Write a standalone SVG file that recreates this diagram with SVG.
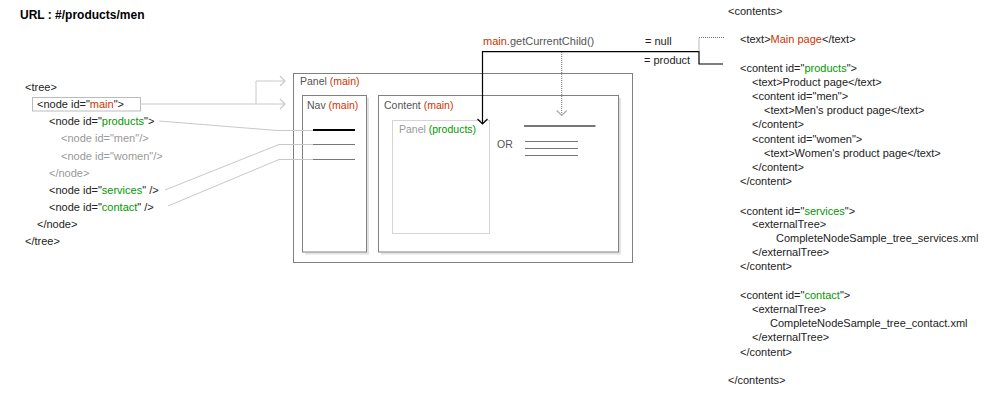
<svg xmlns="http://www.w3.org/2000/svg" width="1000" height="400" viewBox="0 0 1000 400">
  <style>
    text { font-family: "Liberation Sans", Arial, sans-serif; font-size: 11px; fill: #222; }
    .title { font-size: 12px; font-weight: bold; fill: #000; }
    .red { fill: #cc3300; }
    .green { fill: #009900; }
    .dim { fill: #999; }
    .lbl { fill: #555; font-size: 10.5px; }
    .box { fill: #fff; stroke: #808080; stroke-width: 1; }
    .shadow { fill: none; stroke: #e2e2e2; stroke-width: 2; }
    .link { fill: none; stroke: #c8c8c8; stroke-width: 1; }
    .call { fill: none; stroke: #000; stroke-width: 1.2; }
    .dots { fill: none; stroke: #777; stroke-width: 1; stroke-dasharray: 1 1; }
  </style>
  <defs>
    <marker id="chevGray" markerWidth="12" markerHeight="12" refX="6" refY="6" orient="auto" markerUnits="userSpaceOnUse">
      <path d="M1,1 L6,6 L1,11" fill="none" stroke="#c8c8c8" stroke-width="1.2"/>
    </marker>
    <marker id="chevBlack" markerWidth="12" markerHeight="12" refX="6" refY="6" orient="auto" markerUnits="userSpaceOnUse">
      <path d="M1,1 L6,6 L1,11" fill="none" stroke="#000" stroke-width="1.2"/>
    </marker>
    <marker id="chevLight" markerWidth="12" markerHeight="12" refX="6" refY="6" orient="auto" markerUnits="userSpaceOnUse">
      <path d="M1,1 L6,6 L1,11" fill="none" stroke="#aaa" stroke-width="1.2"/>
    </marker>
  </defs>

  <text class="title" x="20" y="19">URL : #/products/men</text>

  <!-- tree definition -->
  <g id="tree">
    <text x="25" y="91">&lt;tree&gt;</text>
    <g id="tree-main">
      <rect x="32.5" y="97.5" width="108" height="13.5" fill="none" stroke="#bbb"/>
      <text x="37" y="108">&lt;node id="<tspan class="red">main</tspan>"&gt;</text>
    </g>
    <g id="tree-products"><text x="49" y="125">&lt;node id="<tspan class="green">products</tspan>"&gt;</text></g>
    <g id="tree-men"><text class="dim" x="61" y="142">&lt;node id="men"/&gt;</text></g>
    <g id="tree-women"><text class="dim" x="61" y="160">&lt;node id="women"/&gt;</text></g>
    <text class="dim" x="49" y="177">&lt;/node&gt;</text>
    <g id="tree-services"><text x="49" y="194">&lt;node id="<tspan class="green">services</tspan>" /&gt;</text></g>
    <g id="tree-contact"><text x="49" y="211">&lt;node id="<tspan class="green">contact</tspan>" /&gt;</text></g>
    <text x="37" y="228">&lt;/node&gt;</text>
    <text x="25" y="245">&lt;/tree&gt;</text>
  </g>

  <!-- panels -->
  <g id="panel-main">
    <rect class="box" x="293.5" y="73.5" width="339" height="189"/>
    <text class="lbl" x="300" y="85">Panel <tspan class="red">(main)</tspan></text>
  </g>
  <g id="nav-main">
    <path class="shadow" d="M368,98 V253.5 H305"/>
    <rect class="box" x="302.5" y="95.5" width="64" height="156.5"/>
    <text class="lbl" x="307" y="109">Nav <tspan class="red">(main)</tspan></text>
    <line x1="313" y1="130" x2="355" y2="130" stroke="#000" stroke-width="2"/>
    <line x1="313" y1="144.5" x2="355" y2="144.5" stroke="#777"/>
    <line x1="313" y1="159.5" x2="355" y2="159.5" stroke="#777"/>
  </g>
  <g id="content-main">
    <path class="shadow" d="M620,98 V253.5 H381"/>
    <rect class="box" x="378.5" y="95.5" width="240" height="156.5"/>
    <text class="lbl" x="384" y="109">Content <tspan class="red">(main)</tspan></text>
    <text class="lbl" x="497" y="147.5">OR</text>
    <line x1="524" y1="126" x2="595.5" y2="126" stroke="#777" stroke-width="2"/>
    <line x1="525" y1="141.5" x2="578" y2="141.5" stroke="#777"/>
    <line x1="525" y1="148.5" x2="578" y2="148.5" stroke="#777"/>
    <line x1="525" y1="155.5" x2="578" y2="155.5" stroke="#777"/>
  </g>
  <g id="panel-products">
    <rect x="392.5" y="120.5" width="97" height="113" fill="none" stroke="#aaa" stroke-dasharray="1 1"/>
    <text class="lbl" x="399" y="133"><tspan fill="#999">Panel </tspan><tspan class="green">(products)</tspan></text>
  </g>

  <!-- getCurrentChild call -->
  <g id="call-label">
    <text x="483" y="44.7" fill="#555"><tspan class="red">main</tspan><tspan fill="#555">.getCurrentChild()</tspan></text>
    <text x="645" y="45.3" fill="#555">= null</text>
    <text x="644" y="64" fill="#555">= product</text>
  </g>

  <!-- connectors -->
  <g id="connectors">
    <polyline class="link" points="140.5,104 285,104" marker-end="url(#chevGray)"/>
    <polyline class="link" points="256,104 256,81 285,81" marker-end="url(#chevGray)"/>
    <polyline class="link" points="159,121 277,130.5 313,130.5"/>
    <polyline class="link" points="165,190 279,144.5 313,144.5"/>
    <polyline class="link" points="168,206 279,159.5 313,159.5"/>
    <polyline class="call" points="723,64 699,64 699,51.7 482.5,51.7 482.5,124" marker-end="url(#chevBlack)"/>
    <polyline class="dots" points="724,37.5 699,37.5 699,51.7"/>
    <polyline class="dots" points="561.7,52 561.7,115.5" marker-end="url(#chevLight)"/>
  </g>

  <!-- contents definition -->
  <g id="contents">
    <text x="728" y="15.3">&lt;contents&gt;</text>
    <g id="content-text"><text x="740" y="43.3">&lt;text&gt;<tspan class="red">Main page</tspan>&lt;/text&gt;</text></g>
    <g id="content-products">
      <text x="740" y="72.3">&lt;content id="<tspan class="green">products</tspan>"&gt;</text>
      <text x="752" y="86">&lt;text&gt;Product page&lt;/text&gt;</text>
      <text x="752" y="100.3">&lt;content id="men"&gt;</text>
      <text x="764" y="114.3">&lt;text&gt;Men's product page&lt;/text&gt;</text>
      <text x="752" y="128.3">&lt;/content&gt;</text>
      <text x="752" y="143">&lt;content id="women"&gt;</text>
      <text x="764" y="157.3">&lt;text&gt;Women's product page&lt;/text&gt;</text>
      <text x="752" y="170.7">&lt;/content&gt;</text>
      <text x="740" y="185.3">&lt;/content&gt;</text>
    </g>
    <g id="content-services">
      <text x="740" y="214.7">&lt;content id="<tspan class="green">services</tspan>"&gt;</text>
      <text x="752" y="228">&lt;externalTree&gt;</text>
      <text x="776" y="242.3">CompleteNodeSample_tree_services.xml</text>
      <text x="752" y="256.3">&lt;/externalTree&gt;</text>
      <text x="740" y="270.3">&lt;/content&gt;</text>
    </g>
    <g id="content-contact">
      <text x="740" y="299.3">&lt;content id="<tspan class="green">contact</tspan>"&gt;</text>
      <text x="752" y="313">&lt;externalTree&gt;</text>
      <text x="770" y="327.3">CompleteNodeSample_tree_contact.xml</text>
      <text x="752" y="340.7">&lt;/externalTree&gt;</text>
      <text x="740" y="356.3">&lt;/content&gt;</text>
    </g>
    <text x="728" y="384.3">&lt;/contents&gt;</text>
  </g>
</svg>
